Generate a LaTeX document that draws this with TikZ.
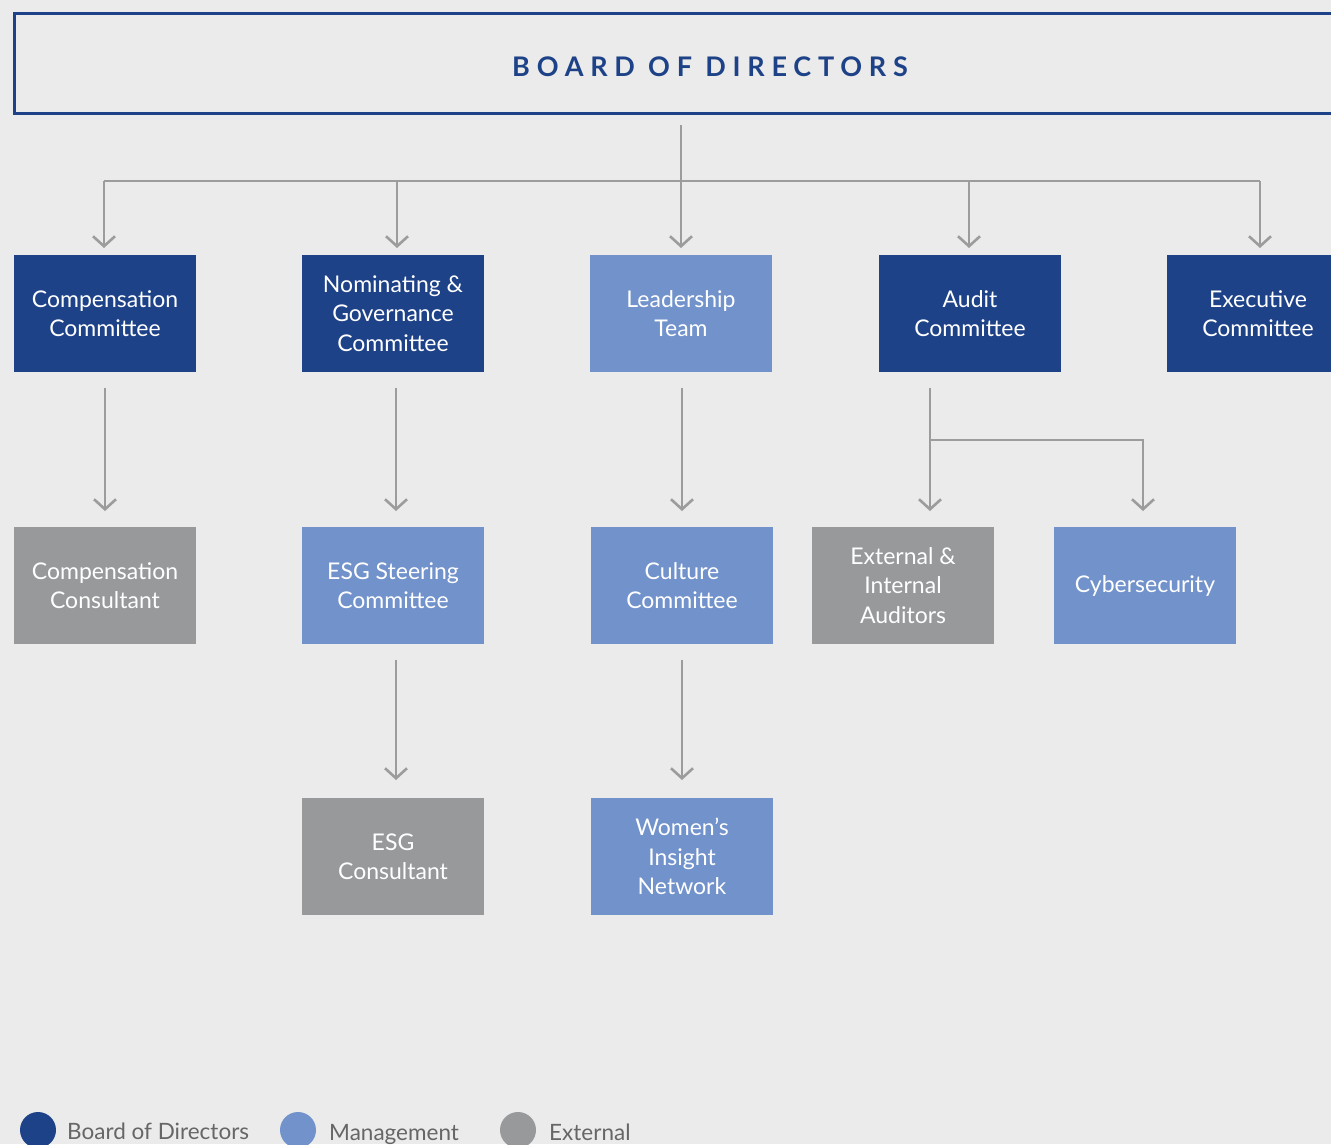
\documentclass[tikz,border=0pt]{standalone}
\usepackage{fontspec}
\setmainfont{Lato}
\usetikzlibrary{arrows.meta}
\definecolor{bg}{HTML}{EAEBEA}
\definecolor{dblue}{HTML}{1E4288}
\definecolor{lblue}{HTML}{7192CB}
\definecolor{egray}{HTML}{98999B}
\definecolor{lgray}{HTML}{9C9C9C}
\definecolor{legtxt}{HTML}{666666}
\tikzset{
  box/.style={minimum width=182pt, minimum height=117pt, inner sep=0pt, text=white, align=center,
    font=\fontsize{23}{29.5}\selectfont},
  board/.style={box, fill=dblue},
  mgmt/.style={box, fill=lblue},
  ext/.style={box, fill=egray},
  conn/.style={draw=lgray, line width=2.6pt},
  arr/.style={conn, -{Straight Barb[length=10pt,width=22pt]}},
  legdot/.style={circle, minimum size=36pt, inner sep=0pt},
  legtext/.style={anchor=base west, text=legtxt, font=\fontsize{22.5}{26}\selectfont, inner sep=0pt}
}
\begin{document}
\begin{tikzpicture}[x=1pt,y=-1pt]
\useasboundingbox[fill=bg] (0,0) rectangle (1331,1144);
% Board header
\node[draw=dblue, line width=3pt, minimum width=1400pt, minimum height=100pt, anchor=north west, inner sep=0pt] (bod) at (13,12) {};
\node[text=dblue, font=\fontsize{27}{30}\selectfont\bfseries\addfontfeature{LetterSpace=25}] (bodt) at (710,67) {BOARD OF DIRECTORS};
% Row 1
\node[board] (comp) at (105,313.5) {Compensation\\Committee};
\node[board] (nom) at (393,313.5) {Nominating \&\\Governance\\Committee};
\node[mgmt] (lead) at (681,313.5) {Leadership\\Team};
\node[board] (audit) at (970,313.5) {Audit\\Committee};
\node[board] (exec) at (1258,313.5) {Executive\\Committee};
% Row 2
\node[ext] (compc) at (105,585.5) {Compensation\\Consultant};
\node[mgmt] (esgs) at (393,585.5) {ESG Steering\\Committee};
\node[mgmt] (cult) at (682,585.5) {Culture\\Committee};
\node[ext] (auds) at (903,585.5) {External \&\\Internal\\Auditors};
\node[mgmt] (cyber) at (1145,585.5) {Cybersecurity};
% Row 3
\node[ext] (esgc) at (393,856.5) {ESG\\Consultant};
\node[mgmt] (win) at (682,856.5) {Women’s\\Insight\\Network};
% Connectors from board
\coordinate (trunk) at (681,125);
\coordinate (bus) at (681,181);
\draw[conn] (trunk) -- (bus);
\draw[conn] (104,181) -- (1260,181);
\draw[arr] (104,181) -- (104,248);
\draw[arr] (397,181) -- (397,248);
\draw[arr] (681,181) -- (681,248);
\draw[arr] (969,181) -- (969,248);
\draw[arr] (1260,181) -- (1260,248);
% Row1 -> Row2
\draw[arr] (105,388) -- (105,511);
\draw[arr] (396,388) -- (396,511);
\draw[arr] (682,388) -- (682,511);
\draw[arr] (930,388) -- (930,511);
\draw[arr] (930,440) -| (1143,511);
% Row2 -> Row3
\draw[arr] (396,660) -- (396,780);
\draw[arr] (682,660) -- (682,780);
% Legend
\node[legdot, fill=dblue] (l1) at (38,1130) {};
\node[legtext] (l1t) at (67,1139) {Board of Directors};
\node[legdot, fill=lblue] (l2) at (298,1130) {};
\node[legtext] (l2t) at (329,1140) {Management};
\node[legdot, fill=egray] (l3) at (518,1130) {};
\node[legtext] (l3t) at (549,1140) {External};
\end{tikzpicture}
\end{document}
